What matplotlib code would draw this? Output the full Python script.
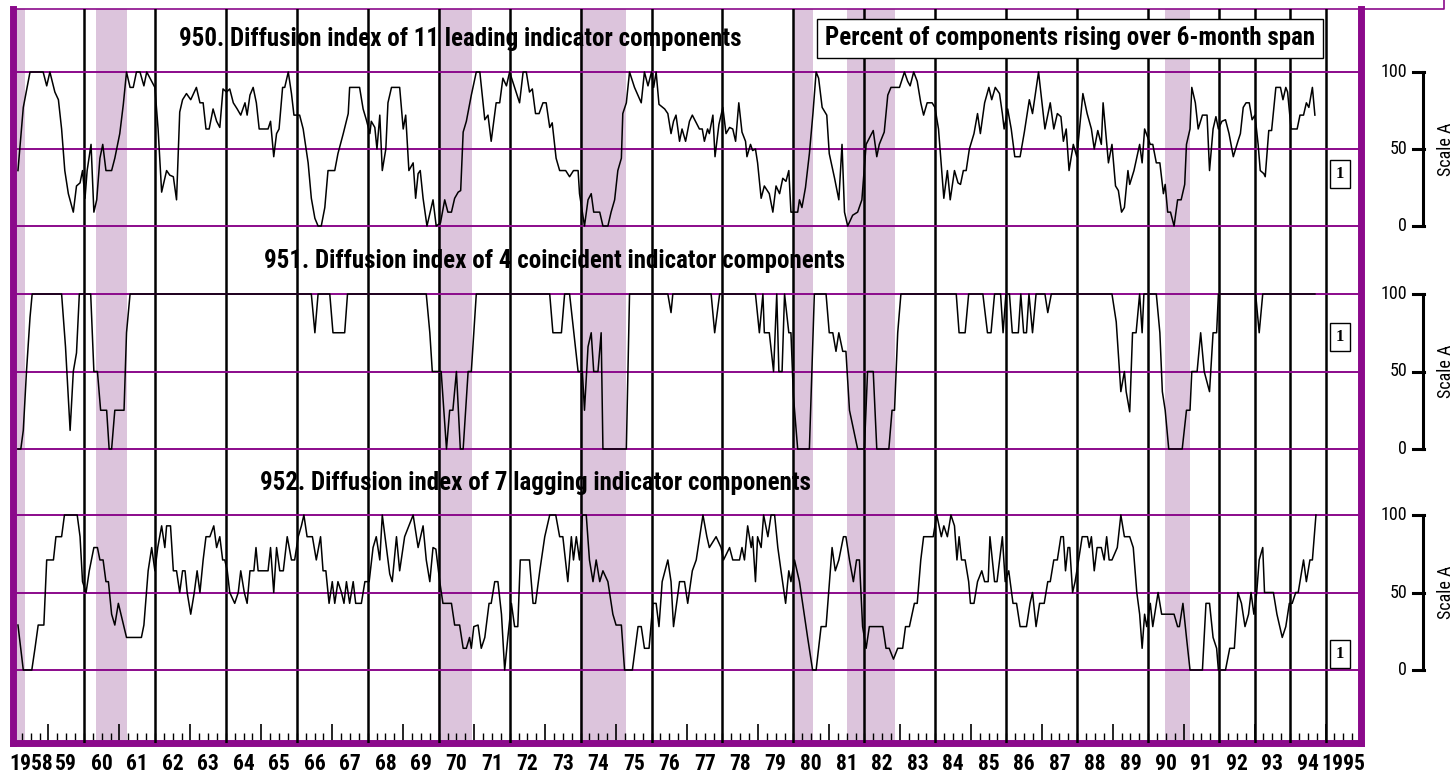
import matplotlib
matplotlib.use('Agg')
from matplotlib import pyplot as plt
from matplotlib import transforms
from matplotlib.lines import Line2D
import numpy as np

# recessions (start, end) in decimal years
recessions = [(1957.9, 1958.34), (1960.34, 1961.2), (1969.98, 1970.93),
              (1973.97, 1975.28), (1979.98, 1980.54), (1981.5, 1982.86),
              (1990.48, 1991.18)]
year_lines = [1960, 1962, 1964, 1966, 1968, 1970, 1972, 1974, 1976, 1978,
              1980, 1982, 1984, 1986, 1988, 1990, 1992, 1993, 1994, 1995]
year_labels = ['1958'] + ['%02d' % (y % 100) for y in range(1959, 1995)] + ['1995']

# 950. leading index, percent rising (decimal year, value)
lead = [(1958.14, 36), (1958.29, 77), (1958.48, 100), (1958.85, 100), (1958.95, 91), (1959.04, 100),
        (1959.18, 87), (1959.28, 82), (1959.37, 63), (1959.46, 36), (1959.56, 21), (1959.70, 9),
        (1959.79, 26), (1959.89, 28), (1959.96, 36), (1960.03, 18), (1960.09, 36), (1960.20, 53),
        (1960.28, 9), (1960.36, 17), (1960.45, 44), (1960.53, 53), (1960.62, 36), (1960.78, 36),
        (1960.87, 44), (1961.01, 60), (1961.11, 79), (1961.20, 100), (1961.30, 90), (1961.39, 90),
        (1961.48, 100), (1961.58, 100), (1961.69, 91), (1961.77, 100), (1961.91, 94), (1962.00, 90),
        (1962.09, 63), (1962.19, 22), (1962.33, 36), (1962.42, 33), (1962.52, 32), (1962.61, 17),
        (1962.70, 74), (1962.78, 82), (1962.89, 86), (1963.01, 82), (1963.17, 90), (1963.27, 80),
        (1963.36, 80), (1963.44, 63), (1963.53, 63), (1963.64, 76), (1963.74, 68), (1963.83, 64),
        (1963.92, 89), (1964.02, 87), (1964.11, 89), (1964.21, 80), (1964.32, 76), (1964.42, 72),
        (1964.54, 80), (1964.60, 72), (1964.68, 85), (1964.77, 90), (1964.86, 80), (1964.94, 63),
        (1965.19, 63), (1965.26, 68), (1965.35, 45), (1965.43, 60), (1965.50, 63), (1965.60, 90),
        (1965.66, 90), (1965.76, 100), (1965.85, 86), (1965.92, 72), (1966.08, 72), (1966.18, 63),
        (1966.32, 41), (1966.41, 18), (1966.51, 5), (1966.60, 0), (1966.69, 0), (1966.79, 12),
        (1966.88, 36), (1967.07, 36), (1967.16, 47), (1967.31, 60), (1967.45, 73), (1967.49, 90),
        (1967.77, 90), (1967.87, 76), (1967.96, 69), (1968.06, 60), (1968.10, 68), (1968.20, 64),
        (1968.26, 50), (1968.34, 72), (1968.41, 36), (1968.51, 50), (1968.57, 80), (1968.67, 90),
        (1968.90, 90), (1969.00, 63), (1969.07, 72), (1969.16, 36), (1969.28, 41), (1969.35, 18),
        (1969.42, 34), (1969.48, 36), (1969.56, 18), (1969.67, 0), (1969.84, 17), (1969.93, 0),
        (1970.05, 2), (1970.17, 17), (1970.26, 9), (1970.36, 9), (1970.45, 18), (1970.55, 22),
        (1970.62, 23), (1970.69, 61), (1970.78, 68), (1970.92, 85), (1971.06, 100), (1971.16, 100),
        (1971.30, 69), (1971.39, 72), (1971.48, 55), (1971.62, 80), (1971.72, 80), (1971.81, 96),
        (1971.91, 91), (1972.00, 100), (1972.14, 90), (1972.28, 80), (1972.38, 100), (1972.47, 100),
        (1972.56, 87), (1972.64, 89), (1972.73, 73), (1972.83, 73), (1972.94, 80), (1973.03, 80),
        (1973.13, 64), (1973.20, 67), (1973.31, 44), (1973.41, 36), (1973.58, 36), (1973.69, 32),
        (1973.80, 36), (1973.93, 36), (1973.97, 21), (1974.11, 0), (1974.21, 17), (1974.30, 21),
        (1974.37, 9), (1974.54, 9), (1974.63, 0), (1974.77, 0), (1974.86, 9), (1974.96, 17),
        (1975.05, 36), (1975.15, 44), (1975.19, 73), (1975.29, 80), (1975.38, 100), (1975.52, 90),
        (1975.71, 80), (1975.80, 100), (1975.90, 91), (1976.00, 100), (1976.06, 90), (1976.13, 100),
        (1976.21, 79), (1976.37, 76), (1976.46, 73), (1976.55, 60), (1976.62, 68), (1976.69, 72),
        (1976.79, 55), (1976.86, 63), (1976.96, 55), (1977.07, 68), (1977.15, 72), (1977.24, 68),
        (1977.35, 63), (1977.43, 63), (1977.49, 55), (1977.58, 63), (1977.63, 60), (1977.73, 72),
        (1977.79, 45), (1977.90, 66), (1978.01, 77), (1978.10, 60), (1978.20, 64), (1978.29, 63),
        (1978.37, 55), (1978.46, 80), (1978.55, 61), (1978.65, 55), (1978.69, 45), (1978.79, 53),
        (1978.85, 49), (1978.93, 50), (1978.99, 41), (1979.09, 18), (1979.18, 26), (1979.32, 21),
        (1979.42, 9), (1979.51, 26), (1979.61, 21), (1979.70, 31), (1979.79, 29), (1979.87, 36),
        (1979.93, 9), (1980.12, 9), (1980.17, 17), (1980.24, 12), (1980.34, 25), (1980.45, 47),
        (1980.55, 73), (1980.64, 100), (1980.71, 96), (1980.81, 77), (1980.94, 72), (1981.01, 47),
        (1981.16, 31), (1981.28, 17), (1981.37, 53), (1981.44, 9), (1981.53, 0), (1981.67, 7),
        (1981.81, 9), (1981.93, 17), (1982.05, 53), (1982.16, 58), (1982.25, 62), (1982.35, 45),
        (1982.42, 53), (1982.56, 61), (1982.66, 85), (1982.75, 90), (1982.99, 90), (1983.13, 100),
        (1983.22, 94), (1983.29, 91), (1983.39, 100), (1983.49, 94), (1983.59, 80), (1983.67, 72),
        (1983.77, 80), (1983.91, 80), (1983.99, 77), (1984.09, 63), (1984.24, 18), (1984.34, 36),
        (1984.42, 17), (1984.54, 36), (1984.64, 28), (1984.71, 27), (1984.79, 36), (1984.87, 36),
        (1984.96, 50), (1985.09, 60), (1985.19, 73), (1985.27, 60), (1985.39, 80), (1985.51, 90),
        (1985.59, 82), (1985.69, 90), (1985.81, 86), (1985.89, 73), (1985.94, 63), (1986.04, 76),
        (1986.14, 63), (1986.24, 45), (1986.39, 45), (1986.51, 61), (1986.65, 82), (1986.74, 73),
        (1986.91, 100), (1987.09, 63), (1987.24, 80), (1987.34, 63), (1987.44, 73), (1987.54, 71),
        (1987.61, 55), (1987.69, 63), (1987.77, 36), (1987.89, 53), (1987.99, 45), (1988.16, 86),
        (1988.28, 73), (1988.40, 63), (1988.48, 50), (1988.58, 62), (1988.68, 53), (1988.73, 80),
        (1988.88, 41), (1988.98, 53), (1989.08, 26), (1989.16, 23), (1989.25, 9), (1989.33, 12),
        (1989.43, 36), (1989.48, 27), (1989.60, 36), (1989.76, 53), (1989.83, 41), (1989.90, 63),
        (1990.06, 53), (1990.13, 53), (1990.23, 41), (1990.33, 41), (1990.43, 21), (1990.48, 27),
        (1990.55, 9), (1990.63, 9), (1990.73, 0), (1990.83, 17), (1990.93, 17), (1991.03, 27),
        (1991.08, 53), (1991.18, 63), (1991.23, 90), (1991.33, 80), (1991.41, 63), (1991.53, 72),
        (1991.66, 72), (1991.73, 36), (1991.83, 63), (1991.91, 71), (1991.98, 63), (1992.08, 68),
        (1992.18, 69), (1992.28, 60), (1992.40, 45), (1992.53, 55), (1992.60, 60), (1992.68, 77),
        (1992.76, 80), (1992.85, 80), (1992.93, 69), (1993.01, 72), (1993.10, 53), (1993.16, 36),
        (1993.26, 34), (1993.30, 32), (1993.40, 62), (1993.48, 62), (1993.60, 90), (1993.73, 90),
        (1993.80, 82), (1993.88, 90), (1993.93, 87), (1994.03, 63), (1994.20, 63), (1994.28, 72),
        (1994.38, 72), (1994.46, 80), (1994.53, 77), (1994.63, 90), (1994.70, 72)]

# 951. coincident index
coin = [(1958.14, 0), (1958.22, 0), (1958.29, 12), (1958.38, 50), (1958.48, 85), (1958.54, 100),
        (1959.37, 100), (1959.48, 66), (1959.61, 12), (1959.70, 50), (1959.79, 62), (1959.87, 100),
        (1960.19, 100), (1960.28, 50), (1960.38, 50), (1960.47, 25), (1960.64, 25), (1960.71, 0),
        (1960.78, 0), (1960.87, 25), (1961.13, 25), (1961.20, 75), (1961.30, 100), (1966.41, 100),
        (1966.51, 75), (1966.60, 100), (1966.93, 100), (1967.02, 75), (1967.35, 75), (1967.43, 100),
        (1969.65, 100), (1969.75, 75), (1969.82, 50), (1970.07, 50), (1970.22, 0), (1970.31, 25),
        (1970.40, 25), (1970.50, 50), (1970.61, 0), (1970.69, 0), (1970.83, 50), (1970.92, 50),
        (1971.06, 100), (1973.13, 100), (1973.22, 75), (1973.46, 75), (1973.55, 100), (1973.69, 100),
        (1973.93, 50), (1974.05, 50), (1974.11, 25), (1974.21, 66), (1974.30, 75), (1974.37, 50),
        (1974.49, 50), (1974.58, 75), (1974.63, 0), (1975.29, 0), (1975.38, 100), (1976.46, 100),
        (1976.55, 88), (1976.60, 100), (1977.68, 100), (1977.78, 75), (1977.92, 100), (1978.93, 100),
        (1979.04, 75), (1979.14, 100), (1979.18, 75), (1979.32, 75), (1979.44, 50), (1979.53, 100),
        (1979.59, 50), (1979.68, 50), (1979.75, 100), (1979.87, 75), (1979.93, 75), (1980.00, 34),
        (1980.12, 0), (1980.45, 0), (1980.59, 100), (1980.92, 100), (1981.01, 75), (1981.11, 75),
        (1981.20, 63), (1981.28, 75), (1981.39, 63), (1981.48, 63), (1981.58, 25), (1981.81, 0),
        (1982.00, 0), (1982.09, 50), (1982.25, 50), (1982.35, 0), (1982.69, 0), (1982.78, 25),
        (1982.85, 25), (1982.94, 75), (1983.03, 100), (1984.59, 100), (1984.67, 75), (1984.84, 75),
        (1984.94, 100), (1985.34, 100), (1985.47, 75), (1985.57, 75), (1985.67, 100), (1985.84, 100),
        (1985.91, 75), (1985.99, 100), (1986.09, 100), (1986.17, 75), (1986.34, 75), (1986.41, 100),
        (1986.49, 75), (1986.57, 75), (1986.64, 100), (1986.74, 75), (1986.84, 100), (1987.09, 100),
        (1987.17, 88), (1987.27, 100), (1988.98, 100), (1989.10, 82), (1989.23, 37), (1989.33, 50),
        (1989.38, 37), (1989.48, 24), (1989.56, 75), (1989.66, 75), (1989.76, 100), (1989.83, 75),
        (1989.88, 100), (1990.23, 100), (1990.33, 75), (1990.40, 37), (1990.48, 25), (1990.58, 0),
        (1990.96, 0), (1991.08, 25), (1991.18, 25), (1991.23, 50), (1991.38, 50), (1991.48, 75),
        (1991.58, 50), (1991.73, 37), (1991.83, 75), (1991.93, 75), (1991.98, 100), (1993.03, 100),
        (1993.13, 75), (1993.23, 100), (1994.70, 100)]

# 952. lagging index
lag = [(1958.14, 29), (1958.29, 0), (1958.53, 0), (1958.62, 14), (1958.71, 29), (1958.87, 29),
       (1958.95, 71), (1959.14, 71), (1959.21, 86), (1959.37, 86), (1959.45, 100), (1959.81, 100),
       (1959.89, 86), (1959.96, 57), (1960.06, 50), (1960.15, 64), (1960.28, 79), (1960.38, 79),
       (1960.45, 71), (1960.54, 71), (1960.62, 57), (1960.69, 57), (1960.78, 36), (1960.87, 29),
       (1960.97, 43), (1961.20, 21), (1961.62, 21), (1961.69, 29), (1961.81, 64), (1961.91, 79),
       (1962.00, 64), (1962.08, 79), (1962.19, 93), (1962.28, 79), (1962.33, 93), (1962.44, 93),
       (1962.52, 64), (1962.61, 64), (1962.70, 50), (1962.78, 64), (1962.85, 64), (1962.91, 50),
       (1963.01, 36), (1963.11, 50), (1963.19, 64), (1963.27, 50), (1963.36, 71), (1963.44, 86),
       (1963.55, 86), (1963.66, 93), (1963.74, 79), (1963.83, 86), (1963.91, 71), (1963.97, 71),
       (1964.04, 64), (1964.11, 50), (1964.25, 43), (1964.35, 50), (1964.42, 64), (1964.52, 50),
       (1964.60, 43), (1964.68, 64), (1964.79, 64), (1964.85, 79), (1964.91, 64), (1965.19, 64),
       (1965.26, 79), (1965.35, 50), (1965.43, 79), (1965.52, 64), (1965.62, 64), (1965.73, 86),
       (1965.85, 71), (1965.94, 71), (1966.04, 86), (1966.13, 93), (1966.20, 100), (1966.29, 86),
       (1966.44, 86), (1966.55, 71), (1966.67, 86), (1966.74, 64), (1966.82, 64), (1966.91, 43),
       (1967.00, 57), (1967.07, 43), (1967.16, 57), (1967.26, 50), (1967.33, 43), (1967.40, 57),
       (1967.49, 43), (1967.59, 57), (1967.66, 43), (1967.82, 43), (1967.92, 57), (1968.04, 57),
       (1968.15, 79), (1968.24, 86), (1968.34, 71), (1968.41, 100), (1968.53, 78), (1968.62, 62),
       (1968.69, 57), (1968.81, 86), (1968.90, 64), (1969.04, 86), (1969.16, 93), (1969.28, 100),
       (1969.42, 79), (1969.56, 93), (1969.65, 71), (1969.75, 57), (1969.84, 79), (1969.92, 78),
       (1970.03, 57), (1970.12, 43), (1970.36, 43), (1970.45, 29), (1970.59, 29), (1970.69, 14),
       (1970.78, 14), (1970.87, 21), (1970.92, 14), (1970.99, 28), (1971.11, 29), (1971.20, 14),
       (1971.30, 21), (1971.42, 43), (1971.48, 43), (1971.58, 57), (1971.67, 57), (1971.77, 36),
       (1971.86, 0), (1971.95, 21), (1972.05, 43), (1972.14, 28), (1972.23, 28), (1972.30, 71),
       (1972.56, 71), (1972.66, 43), (1972.73, 43), (1972.85, 64), (1972.99, 86), (1973.13, 100),
       (1973.30, 100), (1973.41, 86), (1973.50, 86), (1973.64, 57), (1973.74, 86), (1973.80, 71),
       (1973.88, 86), (1973.97, 71), (1974.05, 100), (1974.16, 100), (1974.25, 71), (1974.35, 57),
       (1974.44, 71), (1974.54, 57), (1974.63, 64), (1974.77, 57), (1974.91, 36), (1975.00, 29),
       (1975.15, 29), (1975.24, 0), (1975.46, 0), (1975.62, 28), (1975.71, 28), (1975.80, 14),
       (1975.93, 14), (1976.04, 43), (1976.13, 43), (1976.21, 28), (1976.30, 57), (1976.46, 71),
       (1976.55, 57), (1976.62, 28), (1976.79, 57), (1976.93, 57), (1977.02, 43), (1977.15, 64),
       (1977.26, 71), (1977.45, 100), (1977.56, 86), (1977.63, 79), (1977.82, 86), (1977.96, 79),
       (1978.03, 71), (1978.20, 79), (1978.29, 71), (1978.48, 71), (1978.55, 79), (1978.62, 71),
       (1978.71, 93), (1978.81, 79), (1978.85, 86), (1978.93, 57), (1978.99, 86), (1979.09, 79),
       (1979.16, 100), (1979.28, 86), (1979.37, 100), (1979.47, 100), (1979.56, 79), (1979.65, 64),
       (1979.78, 43), (1979.87, 64), (1979.93, 57), (1980.03, 71), (1980.17, 57), (1980.26, 43),
       (1980.40, 21), (1980.54, 0), (1980.64, 0), (1980.78, 28), (1980.92, 28), (1981.09, 79),
       (1981.18, 64), (1981.28, 71), (1981.41, 86), (1981.48, 86), (1981.58, 71), (1981.69, 57),
       (1981.78, 71), (1981.86, 71), (1981.95, 28), (1982.05, 14), (1982.14, 28), (1982.52, 28),
       (1982.61, 14), (1982.70, 14), (1982.82, 7), (1982.94, 14), (1983.08, 14), (1983.16, 28),
       (1983.27, 28), (1983.41, 43), (1983.49, 43), (1983.59, 71), (1983.67, 86), (1983.94, 86),
       (1984.04, 100), (1984.17, 86), (1984.24, 93), (1984.34, 86), (1984.44, 100), (1984.54, 93),
       (1984.61, 71), (1984.67, 86), (1984.74, 71), (1984.84, 71), (1984.94, 57), (1984.99, 43),
       (1985.09, 43), (1985.19, 57), (1985.31, 64), (1985.39, 57), (1985.49, 57), (1985.54, 86),
       (1985.67, 57), (1985.74, 57), (1985.89, 86), (1985.97, 57), (1986.07, 64), (1986.19, 43),
       (1986.29, 43), (1986.39, 28), (1986.57, 28), (1986.67, 43), (1986.74, 50), (1986.84, 28),
       (1986.94, 43), (1987.07, 43), (1987.17, 57), (1987.24, 57), (1987.34, 71), (1987.44, 71),
       (1987.54, 86), (1987.61, 86), (1987.67, 64), (1987.74, 79), (1987.79, 79), (1987.87, 50),
       (1987.94, 57), (1988.04, 71), (1988.14, 86), (1988.29, 86), (1988.34, 79), (1988.40, 86),
       (1988.48, 64), (1988.56, 79), (1988.68, 79), (1988.76, 71), (1988.83, 86), (1988.90, 71),
       (1988.98, 71), (1989.13, 79), (1989.23, 100), (1989.33, 86), (1989.48, 86), (1989.58, 79),
       (1989.68, 50), (1989.76, 36), (1989.83, 14), (1989.90, 36), (1989.96, 28), (1990.06, 43),
       (1990.13, 28), (1990.28, 50), (1990.38, 36), (1990.73, 36), (1990.83, 28), (1990.88, 28),
       (1990.98, 43), (1991.08, 21), (1991.18, 0), (1991.53, 0), (1991.63, 43), (1991.73, 43),
       (1991.83, 21), (1991.93, 14), (1991.98, 0), (1992.18, 0), (1992.30, 14), (1992.43, 14),
       (1992.53, 50), (1992.63, 43), (1992.73, 28), (1992.83, 36), (1992.90, 50), (1992.98, 36),
       (1993.06, 50), (1993.13, 71), (1993.23, 79), (1993.28, 50), (1993.38, 50), (1993.53, 50),
       (1993.63, 36), (1993.78, 21), (1993.88, 28), (1993.98, 43), (1994.06, 43), (1994.16, 50),
       (1994.23, 50), (1994.38, 71), (1994.46, 57), (1994.56, 71), (1994.63, 71), (1994.73, 100)]

titles = ['950. Diffusion index of 11 leading indicator components',
          '951. Diffusion index of 4 coincident indicator components',
          '952. Diffusion index of 7 lagging indicator components']
title_px = [460, 555, 535]
span_note = 'Percent of components rising over 6-month span'

W, H = 1456, 775
PURPLE = '#8b0a8b'
SHADE = '#dcc4dc'
COND = ['Roboto Condensed', 'Liberation Sans']

plt.rcParams['font.family'] = ['Liberation Sans', 'DejaVu Sans']


def fx(px):
    return px / W


def fy(py):
    return 1 - py / H


fig = plt.figure(figsize=(W / 100, H / 100), dpi=100)

# frame axes
L, R, T, B = 13, 1361, 9, 743
ax0 = fig.add_axes([fx(L), fy(B), fx(R - L), (B - T) / H])
ax0.set_xlim(1958, 1996)
ax0.set_ylim(0, 1)
for a, b in recessions:
    ax0.axvspan(a, b, color=SHADE, lw=0, zorder=0)
for y in year_lines:
    ax0.axvline(y, color='black', lw=1.8, zorder=3)
ax0.set_yticks([])
ax0.set_xticks(np.arange(1959, 1996, 2))
ax0.set_xticks(np.arange(1958, 1996, 0.25), minor=True)
ax0.tick_params(axis='x', which='major', direction='in', length=14, width=1.2, labelbottom=False)
ax0.tick_params(axis='x', which='minor', direction='in', length=7, width=1.0)
for side in ['left', 'bottom', 'right']:
    ax0.spines[side].set_color(PURPLE)
    ax0.spines[side].set_linewidth(5)
ax0.spines['top'].set_color(PURPLE)
ax0.spines['top'].set_linewidth(1.2)
for i, lab in enumerate(year_labels):
    ax0.text(1958.5 + i, -0.014, lab, ha='center', va='top', fontsize=15.5,
             fontweight='bold', family=COND, clip_on=False)

# top border extending to the right
fig.add_artist(Line2D([fx(R), fx(1444), fx(1444)], [fy(T), fy(T), 1.0],
                      color=PURPLE, lw=1.2))

rows = [(72, 226, lead), (294, 449, coin), (515, 670, lag)]
badge_y = [174, 337, 654]
title_y = [39, 261, 483]
for k, (top, bot, data) in enumerate(rows):
    ax = fig.add_axes([fx(L), fy(bot), fx(R - L), (bot - top) / H])
    ax.set_xlim(1958, 1996)
    ax.set_ylim(0, 100)
    ax.patch.set_alpha(0)
    ax.axis('off')
    for g in [0, 50, 100]:
        ax.axhline(g, color=PURPLE, lw=1.4, zorder=2, clip_on=False)
    xs = [p[0] for p in data]
    vs = [p[1] for p in data]
    ax.plot(xs, vs, color='black', lw=1.1, zorder=4, clip_on=False)
    # right-hand scale bracket
    fig.add_artist(Line2D([fx(1423), fx(1423)], [fy(top), fy(bot)], color='black', lw=2.2))
    tr = transforms.blended_transform_factory(fig.transFigure, ax.transData)
    for g in [0, 50, 100]:
        ax.text(fx(1407), g, str(g), transform=tr, ha='right', va='center', fontsize=13,
                family=COND, clip_on=False)
        py = bot - (bot - top) * g / 100
        fig.add_artist(Line2D([fx(1413), fx(1424)], [fy(py), fy(py)], color='black', lw=2.2))
    ax.text(fx(1446), 50, 'Scale A', transform=tr, rotation=90, ha='center', va='center',
            fontsize=13, family=COND, clip_on=False)
    # badge
    fig.text(fx(1340), fy(badge_y[k]), '1', ha='center', va='center', fontsize=12,
             fontweight='bold', family='Liberation Serif',
             bbox=dict(boxstyle='square,pad=0.35', fc='white', ec='black', lw=1))
    # title
    fig.text(fx(title_px[k]), fy(title_y[k]), titles[k],
             ha='center', va='center', fontsize=18, fontweight='bold', family=COND, zorder=1)

fig.text(fx(1070), fy(38), span_note, ha='center', va='center', fontsize=18,
         fontweight='bold', family=COND,
         bbox=dict(boxstyle='square,pad=0.3', fc='white', ec='black', lw=1))

fig.savefig('out.png', dpi=100)
plt.close('all')
